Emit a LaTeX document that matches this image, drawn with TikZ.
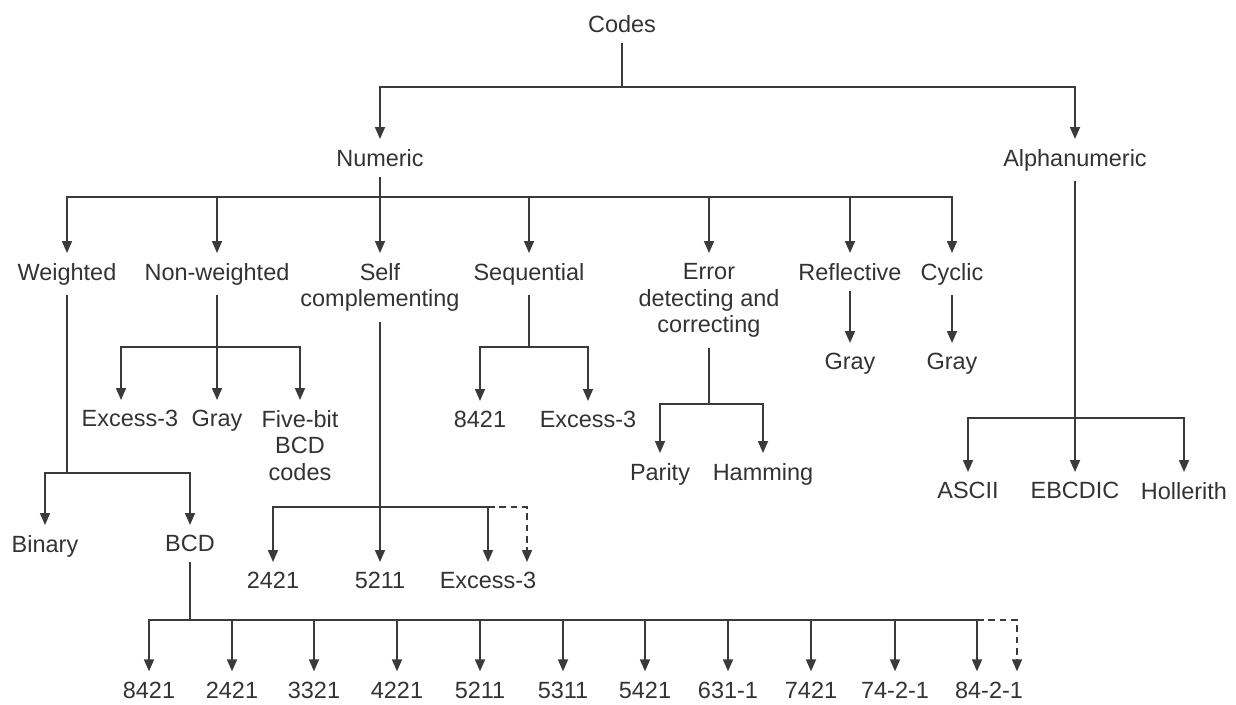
\documentclass[tikz,border=0pt]{standalone}
\usepackage{fontspec}
\setmainfont{Liberation Sans}
\usetikzlibrary{arrows.meta,calc}
\definecolor{ln}{HTML}{3A3A3A}
\definecolor{tx}{HTML}{333333}
\begin{document}
\begin{tikzpicture}[x=0.75pt,y=-0.75pt,
  lbl/.style={font=\fontsize{17.6}{20}\selectfont, text=tx, inner xsep=0pt, inner ysep=7.5pt, align=center, anchor=north},
  lowlbl/.style={lbl, inner ysep=1.5pt},
  wire/.style={draw=ln, line width=1.3pt},
  arr/.style={wire, -{Triangle[width=7.5pt,length=9pt]}},
  lowarr/.style={arr, shorten >=6.5pt},
  dsh/.style={arr, dash pattern=on 5pt off 3.5pt}]
\useasboundingbox (0,0) rectangle (1236,704);

% ---- nodes ----
\node[lbl] (codes) at (622,5) {Codes};
\node[lbl] (num) at (380,139) {Numeric};
\node[lbl] (alpha) at (1075,139) {Alphanumeric};

\node[lbl] (wt) at (67,253) {Weighted};
\node[lbl] (nw) at (217,253) {Non-weighted};
\node[lbl] (sc) at (380,253) {Self\\complementing};
\node[lbl] (seq) at (529,253) {Sequential};
\node[lbl] (err) at (709,253) {Error\\detecting and\\correcting};
\node[lbl] (refl) at (850,253) {Reflective};
\node[lbl] (cyc) at (952,253) {Cyclic};

\node[lbl] (nwex) at (130,400) {Excess-3};
\node[lbl] (nwgr) at (217,400) {Gray};
\node[lbl] (nwfb) at (300,400) {Five-bit\\BCD\\codes};

\node[lbl] (seqa) at (480,401) {8421};
\node[lbl] (seqb) at (588,401) {Excess-3};

\node[lbl] (par) at (660,453) {Parity};
\node[lbl] (ham) at (763,453) {Hamming};

\node[lbl] (rgr) at (850,343) {Gray};
\node[lbl] (cgr) at (952,343) {Gray};

\node[lbl] (ascii) at (968,472) {ASCII};
\node[lbl] (ebc) at (1075,472) {EBCDIC};
\node[lbl] (holl) at (1184,472) {Hollerith};

\node[lbl] (bin) at (45,525) {Binary};
\node[lbl] (bcd) at (190,525) {BCD};

\node[lbl] (s1) at (273,562) {2421};
\node[lbl] (s2) at (380,562) {5211};
\node[lbl] (s3) at (488,562) {Excess-3};

\node[lowlbl] (b1) at (149,680) {8421};
\node[lowlbl] (b2) at (232,680) {2421};
\node[lowlbl] (b3) at (314,680) {3321};
\node[lowlbl] (b4) at (397,680) {4221};
\node[lowlbl] (b5) at (480,680) {5211};
\node[lowlbl] (b6) at (563,680) {5311};
\node[lowlbl] (b7) at (645,680) {5421};
\node[lowlbl] (b8) at (728,680) {631-1};
\node[lowlbl] (b9) at (811,680) {7421};
\node[lowlbl] (b10) at (895,680) {74-2-1};
\node[lowlbl] (b11) at (989,680) {84-2-1};

% ---- junctions ----
\coordinate (jc) at (622,87);
\coordinate (jn) at (380,197);
\coordinate (ja) at (1075,418);
\coordinate (jw) at (67,473);
\coordinate (jnw) at (217,347);
\coordinate (js) at (380,507);
\coordinate (jq) at (529,347);
\coordinate (je) at (709,404);
\coordinate (jb) at (190,620);

\coordinate (nwexa) at ($(nwex.north)+(-9,0)$);
\coordinate (s3d) at ($(s3.north)+(39,0)$);
\coordinate (b11s) at ($(b11.north)+(-12,0)$);
\coordinate (b11d) at ($(b11.north)+(28,0)$);

% ---- connectors ----
\draw[wire] (codes) -- (jc);
\draw[arr] (jc) -| (num);
\draw[arr] (jc) -| (alpha);

\draw[wire] (num) -- (jn);
\foreach \n in {wt,nw,seq,err,refl,cyc} \draw[arr] (jn) -| (\n);
\draw[arr] (jn) -- (sc);

\draw[wire] (nw) -- (jnw);
\draw[arr] (jnw) -| (nwexa);
\draw[arr] (jnw) -- (nwgr);
\draw[arr] (jnw) -| (nwfb);

\draw[wire] (sc) -- (js);
\draw[arr] (js) -| (s1);
\draw[arr] (js) -- (s2);
\draw[arr] (js) -| (s3);
\draw[dsh] (s3 |- js) -| (s3d);

\draw[wire] (seq) -- (jq);
\draw[arr] (jq) -| (seqa);
\draw[arr] (jq) -| (seqb);

\draw[wire] (err) -- (je);
\draw[arr] (je) -| (par);
\draw[arr] (je) -| (ham);

\draw[arr] (refl) -- (rgr);
\draw[arr] (cyc) -- (cgr);

\draw[wire] (alpha) -- (ja);
\draw[arr] (ja) -| (ascii);
\draw[arr] (ja) -- (ebc);
\draw[arr] (ja) -| (holl);

\draw[wire] (wt) -- (jw);
\draw[arr] (jw) -| (bin);
\draw[arr] (jw) -| (bcd);

\draw[wire] (bcd) -- (jb);
\foreach \n in {b1,b2,b3,b4,b5,b6,b7,b8,b9,b10} \draw[lowarr] (jb) -| (\n);
\draw[lowarr] (jb) -| (b11s);
\draw[lowarr, dash pattern=on 5pt off 3.5pt] (b11s |- jb) -| (b11d);
\end{tikzpicture}
\end{document}
